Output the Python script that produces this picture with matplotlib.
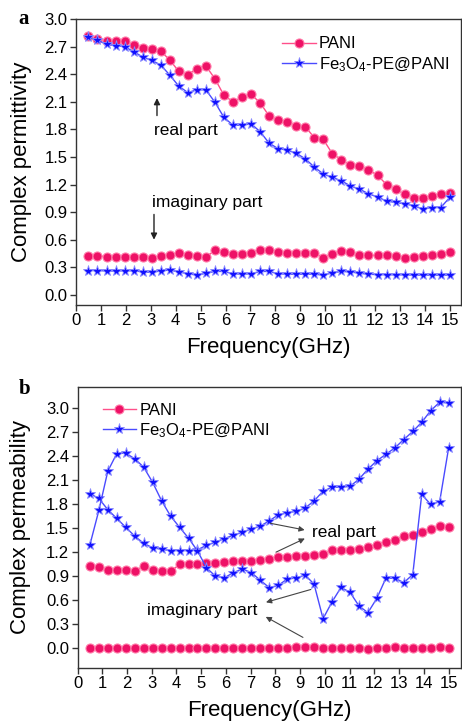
import matplotlib
matplotlib.use("Agg")
import matplotlib.pyplot as plt
from matplotlib.ticker import MultipleLocator, FormatStrFormatter

plt.rcParams['font.family'] = ['Liberation Sans', 'DejaVu Sans']
plt.rcParams['mathtext.fontset'] = 'custom'
plt.rcParams['mathtext.rm'] = 'Liberation Sans'
plt.rcParams['mathtext.it'] = 'Liberation Sans'

# ---------------- data ----------------
freq = [0.5, 0.8625, 1.225, 1.5875, 1.95, 2.3125, 2.675, 3.0375, 3.4, 3.7625,
        4.125, 4.4875, 4.85, 5.2125, 5.575, 5.9375, 6.3, 6.6625, 7.025, 7.3875,
        7.75, 8.1125, 8.475, 8.8375, 9.2, 9.5625, 9.925, 10.2875, 10.65, 11.0125,
        11.375, 11.7375, 12.1, 12.4625, 12.825, 13.1875, 13.55, 13.9125, 14.275, 14.6375,
        15.0]

# panel a: complex permittivity
pani_eps_real = [2.82, 2.78, 2.765, 2.765, 2.76, 2.72, 2.68, 2.67, 2.65, 2.555,
                 2.43, 2.395, 2.46, 2.49, 2.35, 2.17, 2.10, 2.15, 2.18, 2.09,
                 1.945, 1.90, 1.877, 1.84, 1.83, 1.71, 1.69, 1.535, 1.47, 1.41,
                 1.40, 1.36, 1.30, 1.20, 1.152, 1.095, 1.058, 1.058, 1.076, 1.095,
                 1.11]
fe_eps_real = [2.80, 2.77, 2.725, 2.71, 2.70, 2.645, 2.587, 2.55, 2.50, 2.39,
               2.27, 2.20, 2.23, 2.23, 2.095, 1.93, 1.845, 1.845, 1.86, 1.775,
               1.65, 1.59, 1.575, 1.54, 1.48, 1.39, 1.315, 1.278, 1.24, 1.185,
               1.15, 1.10, 1.065, 1.02, 1.005, 0.99, 0.97, 0.935, 0.95, 0.95,
               1.06]
pani_eps_imag = [0.424, 0.424, 0.417, 0.417, 0.417, 0.41, 0.417, 0.40, 0.42, 0.435,
                 0.453, 0.435, 0.42, 0.41, 0.485, 0.47, 0.44, 0.45, 0.46, 0.49,
                 0.49, 0.465, 0.46, 0.46, 0.46, 0.46, 0.40, 0.45, 0.475, 0.465,
                 0.43, 0.43, 0.43, 0.43, 0.42, 0.40, 0.41, 0.42, 0.43, 0.445,
                 0.47]
fe_eps_imag = [0.265, 0.265, 0.26, 0.26, 0.262, 0.262, 0.25, 0.245, 0.26, 0.27,
               0.25, 0.23, 0.215, 0.235, 0.255, 0.255, 0.23, 0.225, 0.23, 0.255,
               0.255, 0.23, 0.225, 0.225, 0.225, 0.225, 0.215, 0.24, 0.255, 0.25,
               0.235, 0.225, 0.22, 0.22, 0.218, 0.218, 0.215, 0.215, 0.215, 0.215,
               0.215]

# panel b: complex permeability
pani_mu_real = [1.022, 1.01, 0.98, 0.98, 0.98, 0.97, 1.022, 0.98, 0.97, 0.96,
                1.047, 1.047, 1.055, 1.06, 1.065, 1.075, 1.085, 1.09, 1.095, 1.10,
                1.11, 1.14, 1.145, 1.15, 1.155, 1.17, 1.18, 1.225, 1.225, 1.225,
                1.24, 1.265, 1.295, 1.33, 1.35, 1.40, 1.42, 1.455, 1.49, 1.52,
                1.51]
pani_mu_imag = [0.0, 0.0, 0.0, 0.0, 0.0, 0.0, 0.0, 0.0, 0.0, 0.0,
                0.0, 0.0, 0.0, 0.0, 0.005, 0.005, 0.005, 0.005, 0.005, 0.005,
                0.005, 0.01, 0.01, 0.02, 0.02, 0.02, 0.0, 0.005, 0.01, 0.01,
                0.0, -0.005, 0.0, 0.01, 0.02, 0.005, 0.0, 0.005, 0.01, 0.015,
                0.01]
fe_mu_real = [1.93, 1.87, 1.73, 1.62, 1.51, 1.40, 1.31, 1.255, 1.235, 1.22,
              1.22, 1.22, 1.23, 1.285, 1.325, 1.37, 1.41, 1.45, 1.49, 1.525,
              1.59, 1.665, 1.69, 1.71, 1.75, 1.84, 1.96, 2.01, 2.01, 2.02,
              2.11, 2.235, 2.34, 2.42, 2.50, 2.605, 2.705, 2.82, 2.965, 3.07,
              3.06]
fe_mu_imag = [1.29, 1.72, 2.21, 2.43, 2.435, 2.365, 2.26, 2.07, 1.84, 1.65,
              1.51, 1.375, 1.215, 1.005, 0.90, 0.88, 0.945, 0.99, 0.945, 0.85,
              0.757, 0.785, 0.865, 0.877, 0.915, 0.80, 0.37, 0.58, 0.76, 0.70,
              0.53, 0.445, 0.625, 0.875, 0.875, 0.82, 0.92, 1.92, 1.795, 1.83,
              2.50]

xticks = list(range(0, 16))
label_pani = 'PANI'
label_fe = 'Fe$_{3}$O$_{4}$-PE@PANI'

# ---------------- style ----------------
PINK_LINE = '#ff4f8a'
PINK_FACE = '#ee1166'
PINK_EDGE = '#ff7aa8'
BLUE_LINE = '#4a4aff'
BLUE_FACE = '#1010ff'
BLUE_EDGE = '#8a8aff'

pani_kw = dict(color=PINK_LINE, lw=1.0, marker='o', ms=6.5,
               mfc=PINK_FACE, mec=PINK_EDGE, mew=0.8)
fe_kw = dict(color=BLUE_LINE, lw=1.0, marker='*', ms=8,
             mfc=BLUE_FACE, mec=BLUE_EDGE, mew=0.6)

fig = plt.figure(figsize=(4.62, 7.22), dpi=100)

axa = fig.add_axes([76/462, 1-305/722, (461-76)/462, (305-19)/722])
axb = fig.add_axes([77.5/462, 1-668/722, (461-77.5)/462, (668-387)/722])


def style_axes(ax, ylabel):
    for sp in ax.spines.values():
        sp.set_color('#333333')
        sp.set_linewidth(1.0)
    ax.set_xticks(xticks)
    ax.yaxis.set_major_locator(MultipleLocator(0.3))
    ax.yaxis.set_major_formatter(FormatStrFormatter('%.1f'))
    ax.tick_params(axis='both', direction='out', length=4, width=1,
                   color='#333333', labelsize=12, pad=2, top=False, right=False)
    ax.set_xlabel('Frequency(GHz)', fontsize=16, labelpad=6)
    ax.set_ylabel(ylabel, fontsize=16)


# panel a
axa.plot(freq, pani_eps_real, label=label_pani, **pani_kw)
axa.plot(freq, fe_eps_real, label=label_fe, **fe_kw)
axa.plot(freq, pani_eps_imag, **pani_kw)
axa.plot(freq, fe_eps_imag, **fe_kw)
axa.set_xlim(0, 15.45)
axa.set_ylim(-0.11, 3.0)
style_axes(axa, 'Complex permittivity')
axa.yaxis.set_label_coords(-0.115, 0.5)
axa.legend(loc='upper right', frameon=False, fontsize=12, handlelength=2.0,
           handletextpad=0.2, borderaxespad=0.3, labelspacing=0.25,
           bbox_to_anchor=(1.0, 0.98))

arrow_kw = dict(arrowstyle='-|>', color='#222222', lw=1.0, mutation_scale=9)
axa.text(3.13, 1.79, 'real part', fontsize=12.5, va='center', ha='left')
axa.annotate('', xy=(3.25, 2.17), xytext=(3.25, 1.92), arrowprops=arrow_kw)
axa.text(3.05, 1.01, 'imaginary part', fontsize=12.5, va='center', ha='left')
axa.annotate('', xy=(3.13, 0.57), xytext=(3.13, 0.905), arrowprops=arrow_kw)

# panel b
axb.plot(freq, pani_mu_real, label=label_pani, **pani_kw)
axb.plot(freq, fe_mu_real, label=label_fe, **fe_kw)
axb.plot(freq, pani_mu_imag, **pani_kw)
axb.plot(freq, fe_mu_imag, **fe_kw)
axb.set_xlim(0, 15.5)
axb.set_ylim(-0.245, 3.26)
style_axes(axb, 'Complex permeability')
axb.yaxis.set_label_coords(-0.12, 0.5)
axb.legend(loc='upper left', frameon=False, fontsize=12, handlelength=2.0,
           handletextpad=0.2, borderaxespad=0.3, labelspacing=0.2,
           bbox_to_anchor=(0.035, 0.985))

arrow_kw2 = dict(arrowstyle='-|>', color='#444444', lw=0.8, mutation_scale=8)
axb.text(9.49, 1.44, 'real part', fontsize=12.5, va='center', ha='left')
axb.annotate('', xy=(9.29, 1.47), xytext=(7.68, 1.567), arrowprops=arrow_kw2)
axb.annotate('', xy=(9.29, 1.385), xytext=(7.92, 1.185), arrowprops=arrow_kw2)
axb.text(2.81, 0.474, 'imaginary part', fontsize=12.5, va='center', ha='left')
axb.annotate('', xy=(7.51, 0.565), xytext=(9.54, 0.744), arrowprops=arrow_kw2)
axb.annotate('', xy=(7.51, 0.41), xytext=(9.21, 0.12), arrowprops=arrow_kw2)

# panel letters
fig.text(24/462, 1-19/722, 'a', fontsize=15, fontweight='bold',
         family='Liberation Serif', ha='center', va='center')
fig.text(25/462, 1-389/722, 'b', fontsize=15, fontweight='bold',
         family='Liberation Serif', ha='center', va='center')

fig.savefig('out.png', dpi=100)
